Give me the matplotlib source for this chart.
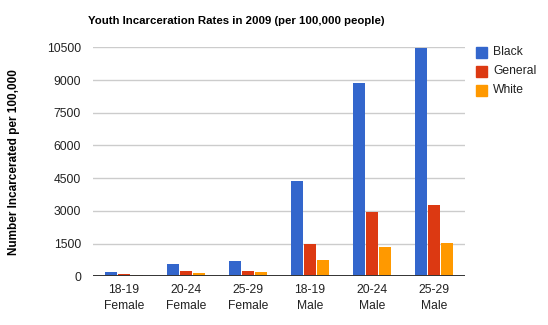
import matplotlib
matplotlib.use("Agg")
import matplotlib.pyplot as plt
import numpy as np
from matplotlib.patches import Rectangle

categories = ["18-19\nFemale", "20-24\nFemale", "25-29\nFemale", "18-19\nMale", "20-24\nMale", "25-29\nMale"]
series_names = ["Black", "General", "White"]
black = [190, 560, 690, 4380, 8880, 10470]
general = [90, 230, 230, 1480, 2930, 3290]
white = [60, 140, 180, 740, 1330, 1510]
yticks = [0, 1500, 3000, 4500, 6000, 7500, 9000, 10500]
colors = ["#3366cc", "#dc3912", "#ff9900"]

plt.rcParams['font.family'] = ['Liberation Sans', 'DejaVu Sans']

W, H = 548, 325
fig = plt.figure(figsize=(W / 100, H / 100), dpi=100)
left, right, top, bottom = 93, 465, 47.3, 276.3
ax = fig.add_axes([left / W, 1 - bottom / H, (right - left) / W, (bottom - top) / H])

n = len(categories)
x = np.arange(n)
bw = 12 / 62.0
step = 13 / 62.0
for i, (vals, c, name) in enumerate(zip([black, general, white], colors, series_names)):
    ax.bar(x + (i - 1) * step, vals, width=bw, color=c, label=name, zorder=3)

ax.set_xlim(-0.5, n - 0.5)
ax.set_ylim(0, 10500)
ax.set_yticks(yticks)
ax.set_yticklabels([str(v) for v in yticks])
ax.set_xticks(x)
ax.set_xticklabels(categories, linespacing=1.4)
ax.tick_params(axis='both', length=0, labelsize=8.7, colors='#222222')
ax.tick_params(axis='y', pad=8.6)
ax.tick_params(axis='x', pad=5.5)
for v in yticks[1:]:
    ax.axhline(v, color='#cccccc', lw=1, zorder=1)
ax.axhline(0, color='#333333', lw=1.4, zorder=4)
for s in ax.spines.values():
    s.set_visible(False)

fig.text(88 / W, 1 - 20.5 / H, "Youth Incarceration Rates in 2009 (per 100,000 people)",
         fontsize=8.2, fontweight='bold', color='#000000', ha='left', va='center')
fig.text(14 / W, 1 - 162 / H, "Number Incarcerated per 100,000", rotation=90,
         fontsize=8.5, fontweight='bold', color='#000000', ha='center', va='center')

# legend
for i, (name, c) in enumerate(zip(series_names, colors)):
    yc = 52 + i * 19
    fig.patches.append(Rectangle((476 / W, 1 - (yc + 5.5) / H), 11 / W, 11 / H,
                                 transform=fig.transFigure, color=c, figure=fig))
    fig.text(493 / W, 1 - yc / H, name, fontsize=8.7, color='#222222', ha='left', va='center')

fig.savefig("out.png", dpi=100)
